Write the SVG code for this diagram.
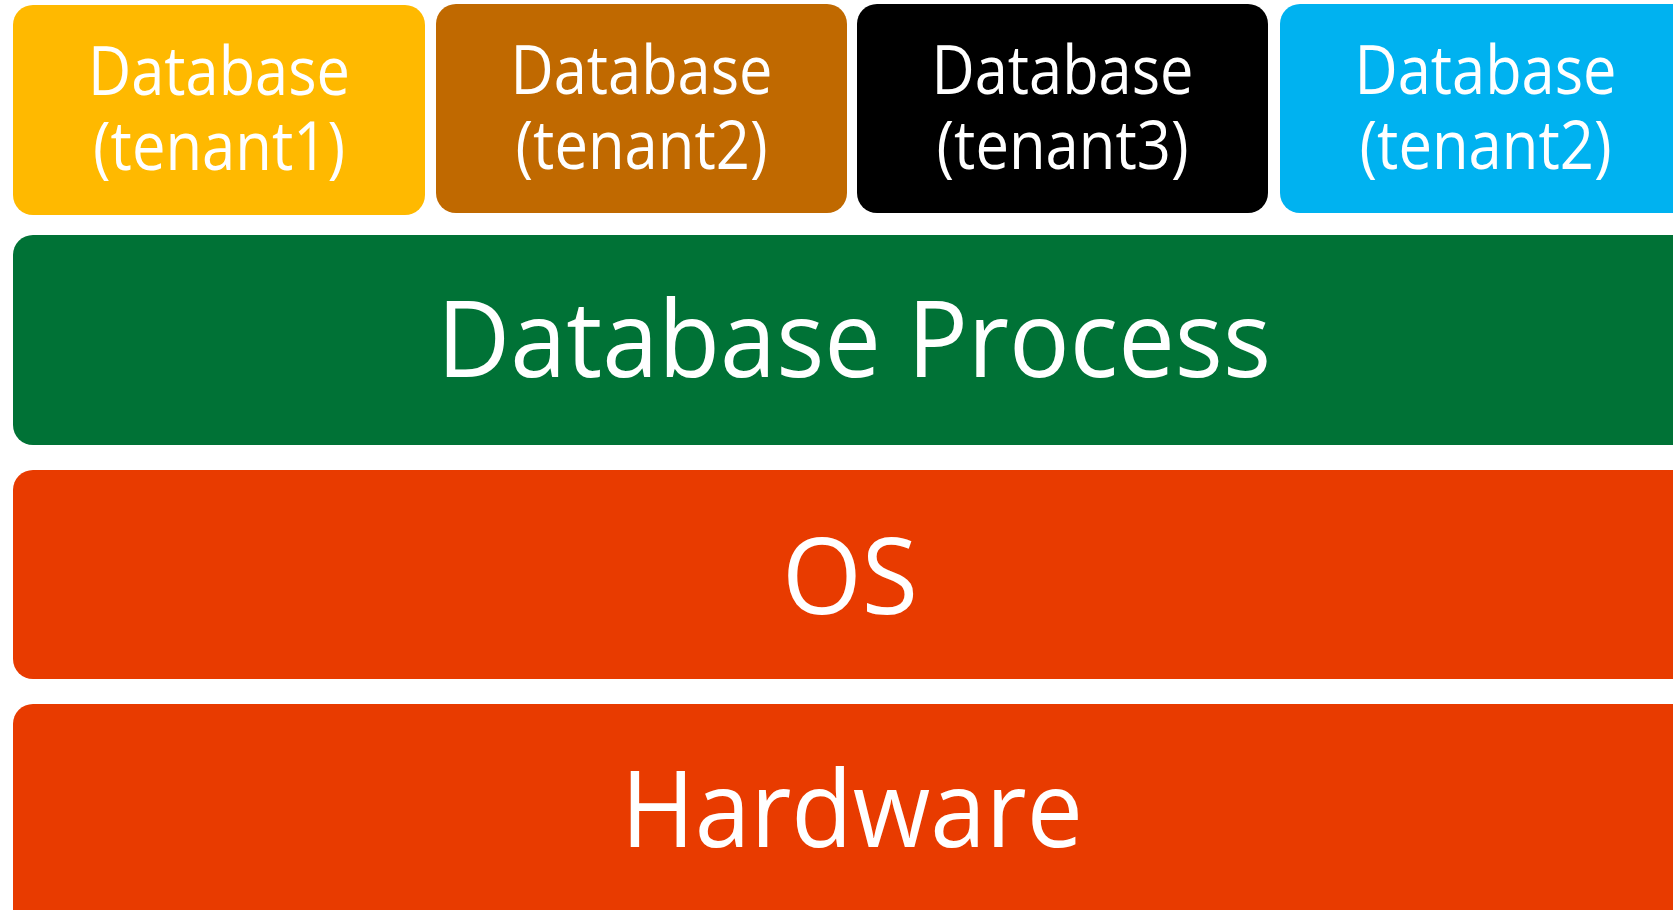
<svg xmlns="http://www.w3.org/2000/svg" width="1673" height="910" viewBox="0 0 1673 910">
<style>
.t{font-family:"Open Sans","Noto Sans","Liberation Sans",sans-serif;fill:#fff;text-anchor:middle}
.s{font-size:67px}
.b{font-size:106px}
</style>
<rect width="1673" height="910" fill="#fff"/>
<g id="tenant1">
<rect x="13" y="5" width="412" height="210" rx="20" fill="#FFB900"/>
<text class="t s"><tspan x="219" y="95" textLength="262" lengthAdjust="spacingAndGlyphs">Database</tspan><tspan x="219" y="170" textLength="252" lengthAdjust="spacingAndGlyphs">(tenant1)</tspan></text>
</g>
<g id="tenant2a">
<rect x="436" y="4" width="411" height="209" rx="20" fill="#C06900"/>
<text class="t s"><tspan x="641.5" y="94" textLength="262" lengthAdjust="spacingAndGlyphs">Database</tspan><tspan x="641.5" y="169" textLength="252" lengthAdjust="spacingAndGlyphs">(tenant2)</tspan></text>
</g>
<g id="tenant3">
<rect x="857" y="4" width="411" height="209" rx="20" fill="#000"/>
<text class="t s"><tspan x="1062.5" y="94" textLength="262" lengthAdjust="spacingAndGlyphs">Database</tspan><tspan x="1062.5" y="169" textLength="252" lengthAdjust="spacingAndGlyphs">(tenant3)</tspan></text>
</g>
<g id="tenant2b">
<rect x="1280" y="4" width="411" height="209" rx="20" fill="#00B2F0"/>
<text class="t s"><tspan x="1485.5" y="94" textLength="262" lengthAdjust="spacingAndGlyphs">Database</tspan><tspan x="1485.5" y="169" textLength="252" lengthAdjust="spacingAndGlyphs">(tenant2)</tspan></text>
</g>
<g id="process">
<rect x="13" y="235" width="1690" height="210" rx="20" fill="#007236"/>
<text class="t b" x="854" y="377" textLength="834" lengthAdjust="spacingAndGlyphs">Database Process</text>
</g>
<g id="os">
<rect x="13" y="470" width="1690" height="209" rx="20" fill="#E83B00"/>
<text class="t b" x="850" y="614" textLength="136" lengthAdjust="spacingAndGlyphs">OS</text>
</g>
<g id="hardware">
<rect x="13" y="704" width="1690" height="230" rx="20" fill="#E83B00"/>
<text class="t b" x="852" y="847" textLength="462" lengthAdjust="spacingAndGlyphs">Hardware</text>
</g>
<g id="connectors"/>
</svg>
